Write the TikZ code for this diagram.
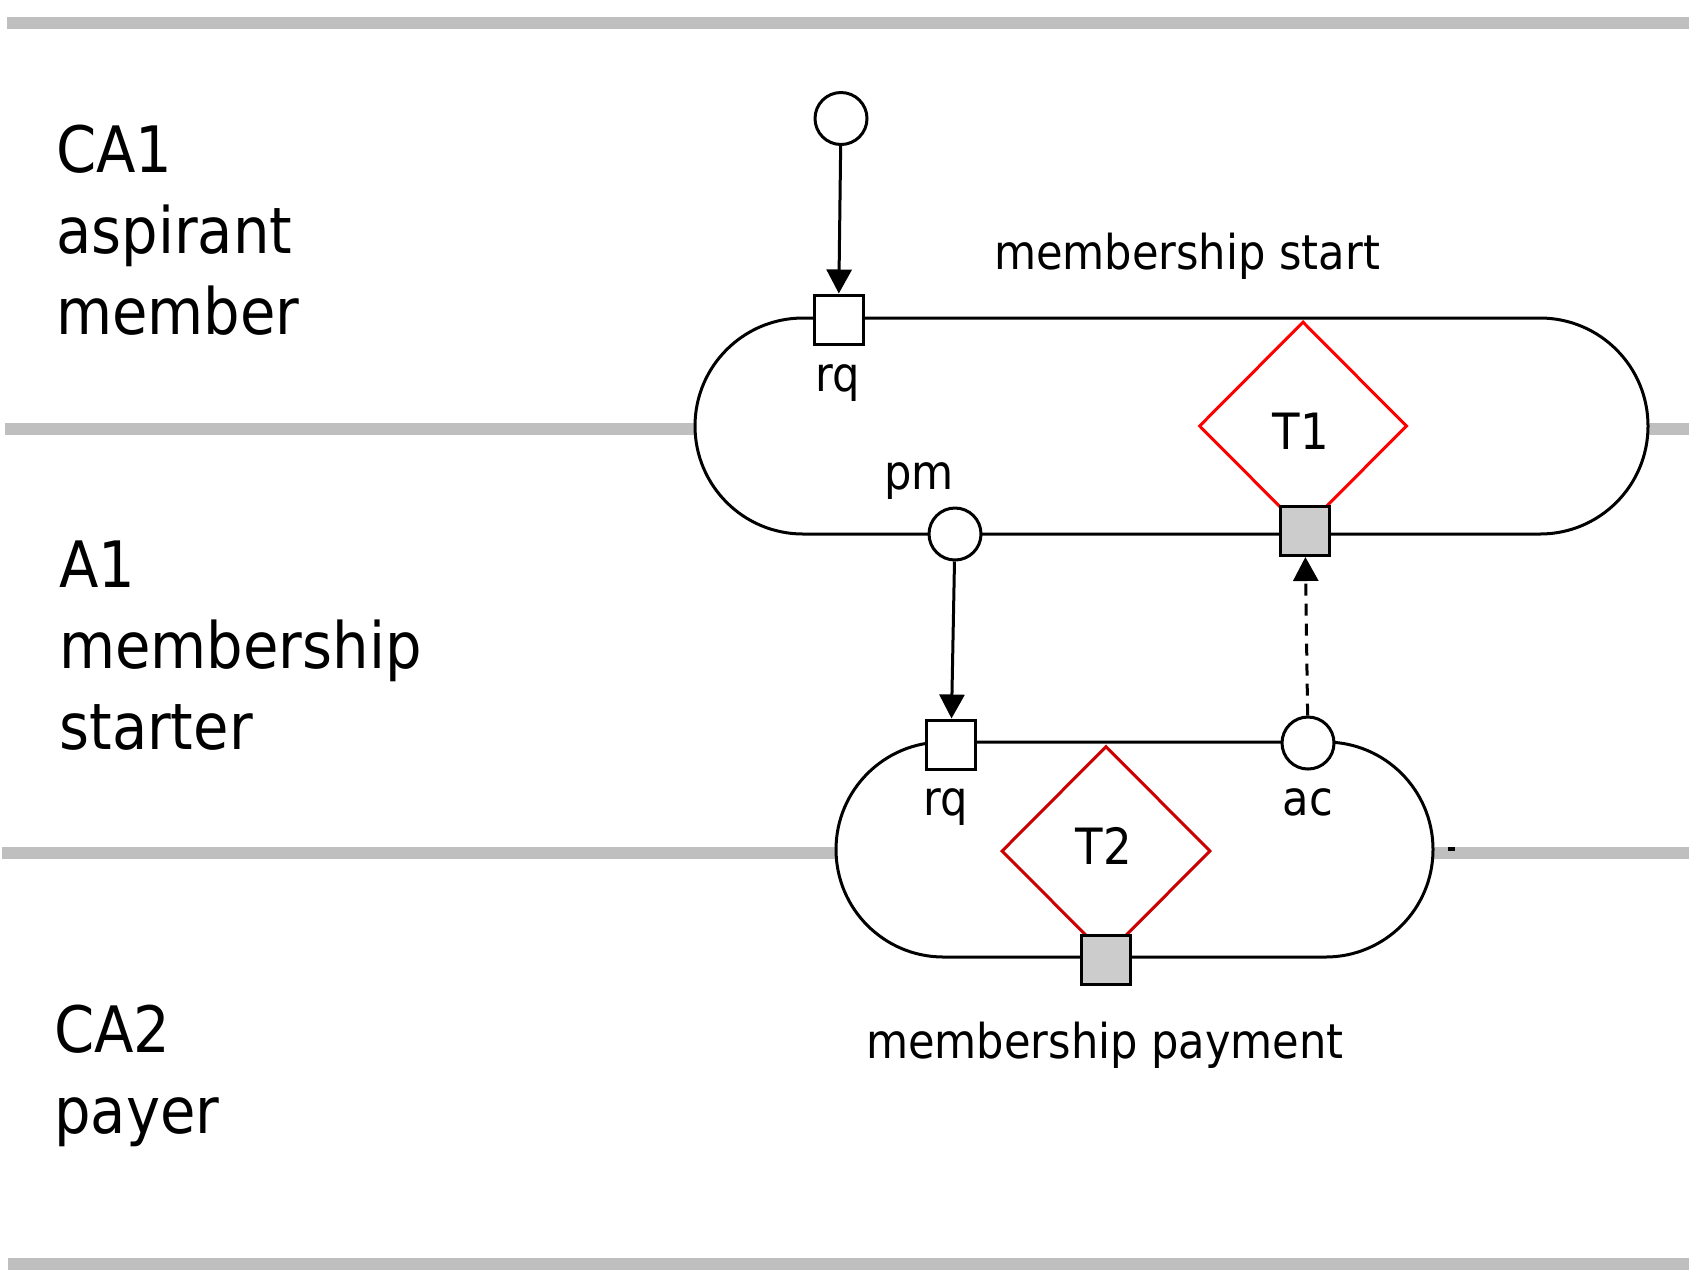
\documentclass[tikz,border=0pt]{standalone}
\usepackage{fontspec}
\setmainfont{DejaVu Sans Condensed}
\usetikzlibrary{shapes.geometric,shapes.misc,arrows.meta}
\begin{document}
\begin{tikzpicture}[x=0.5pt,y=-0.5pt,
  lane/.style={draw=black!25,line width=6pt},
  pill/.style={rounded rectangle,draw,fill=white,line width=1.5pt,inner sep=0pt},
  trans/.style={diamond,draw,line width=1.5pt,inner sep=0pt},
  port/.style={rectangle,draw,fill=white,line width=1.5pt,minimum size=24.5pt,inner sep=0pt},
  exec/.style={rectangle,draw,fill=black!20,line width=1.5pt,minimum size=24.5pt,inner sep=0pt},
  state/.style={circle,draw,fill=white,line width=1.5pt,minimum size=26pt,inner sep=0pt},
  biglbl/.style={anchor=north west,align=left,inner sep=0pt,font=\fontsize{32}{40.5}\selectfont},
  small/.style={anchor=base,inner sep=0pt,font=\fontsize{24}{29}\selectfont},
  tlbl/.style={inner sep=0pt,font=\fontsize{25}{30}\selectfont},
  arr/.style={-{Triangle[length=12pt,width=12.5pt]},line width=1.5pt},
  darr/.style={arr,dash pattern=on 6pt off 4pt}]
\useasboundingbox (0,0) rectangle (1689,1287);
% lanes
\draw[lane] (7,23) -- (1689,23);
\draw[lane] (5,429) -- (1689,429);
\draw[lane] (2,853) -- (1689,853);
\draw[lane] (8,1264) -- (1689,1264);
% lane labels
\node[biglbl] (l1) at (56,125) {CA1\\aspirant\\member};
\node[biglbl] (l2) at (59,540) {A1\\membership\\starter};
\node[biglbl] (l3) at (54,1005) {CA2\\payer};
% transaction pills
\node[pill,minimum width=476.5pt,minimum height=108pt] (p1) at (1171.5,426) {};
\node[pill,minimum width=298.5pt,minimum height=107.5pt] (p2) at (1134.5,849.5) {};
% diamonds
\node[trans,draw=red,minimum width=104pt,minimum height=104.5pt] (t1) at (1303,426) {};
\node[trans,draw=red!80!black,minimum width=104.5pt,minimum height=105pt] (t2) at (1106,851) {};
\node[tlbl] (t1l) at (1301,431) {T1};
\node[tlbl] (t2l) at (1104,846) {T2};
% squares and circles
\node[state] (s) at (841,118.5) {};
\node[port] (rq1) at (838.5,319.5) {};
\node[state] (pm) at (955,534) {};
\node[exec] (e1) at (1305,531) {};
\node[port] (rq2) at (951,744.5) {};
\node[state] (ac) at (1308,743) {};
\node[exec] (e2) at (1106,960) {};
% labels
\node[small] (lrq1) at (838,391) {rq};
\node[small] (lpm) at (919,489) {pm};
\node[small] (lms) at (1187,269) {membership start};
\node[small] (lrq2) at (946,815) {rq};
\node[small] (lac) at (1308,815) {ac};
\node[small] (lmp) at (1105,1058) {membership payment};
% arrows
\draw[arr] (s) -- (rq1);
\draw[arr] (pm) -- (rq2);
\draw[darr] (ac) -- (e1);
% tiny mark
\fill (1448,847) rectangle (1455,851);
\end{tikzpicture}
\end{document}
